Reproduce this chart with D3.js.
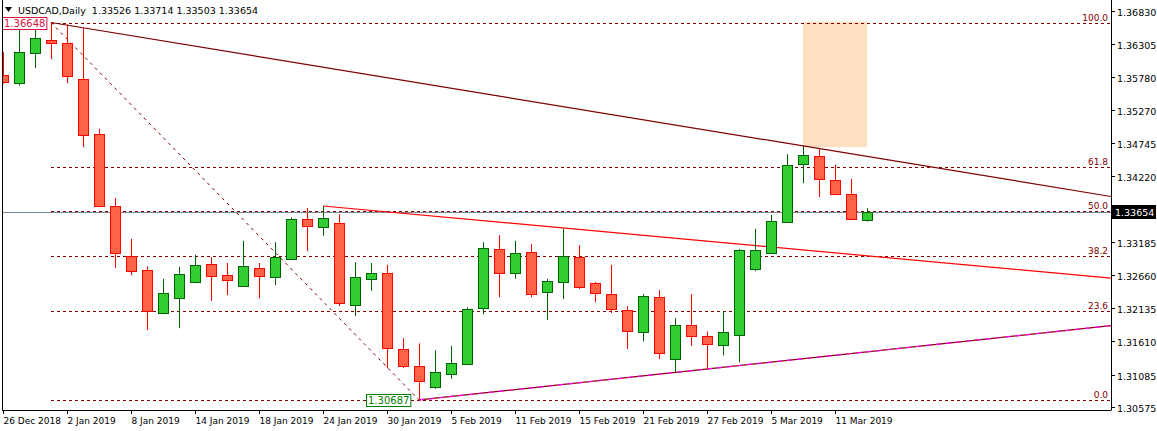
<!DOCTYPE html>
<html><head><meta charset="utf-8">
<script src="https://cdn.jsdelivr.net/npm/d3@7"></script>
<style>body{margin:0;background:#fff}svg{display:block}text{font-family:"DejaVu Sans",sans-serif}</style>
</head><body><svg id="c" width="1157" height="431"></svg>
<script>
const dates=["26 Dec 2018","27 Dec","28 Dec","31 Dec","2 Jan 2019","3 Jan","4 Jan","7 Jan","8 Jan 2019","9 Jan","10 Jan","11 Jan","14 Jan 2019","15 Jan","16 Jan","17 Jan","18 Jan 2019","21 Jan","22 Jan","23 Jan","24 Jan 2019","25 Jan","28 Jan","29 Jan","30 Jan 2019","31 Jan","1 Feb","4 Feb","5 Feb 2019","6 Feb","7 Feb","8 Feb","11 Feb 2019","12 Feb","13 Feb","14 Feb","15 Feb 2019","18 Feb","19 Feb","20 Feb","21 Feb 2019","22 Feb","25 Feb","26 Feb","27 Feb 2019","28 Feb","1 Mar","4 Mar","5 Mar 2019","6 Mar","7 Mar","8 Mar","11 Mar 2019","12 Mar","13 Mar"];
const open=[1.3582,1.3569,1.3617,1.3637,1.3632,1.3576,1.3489,1.3375,1.3296,1.3274,1.3206,1.3229,1.3255,1.3283,1.3266,1.3248,1.3277,1.3263,1.3291,1.3354,1.3342,1.3348,1.3218,1.3260,1.3269,1.3149,1.3122,1.3089,1.3109,1.3125,1.3214,1.3307,1.3269,1.3302,1.3239,1.3255,1.3294,1.3253,1.3236,1.3211,1.3176,1.3231,1.3133,1.3187,1.3169,1.3155,1.3171,1.3275,1.3301,1.3350,1.3441,1.3454,1.3416,1.3394,1.33526];
const high=[1.3618,1.3661,1.3661,1.36648,1.3662,1.3656,1.3497,1.3388,1.3323,1.3279,1.3260,1.3279,1.3298,1.3294,1.3285,1.3320,1.3285,1.3318,1.3357,1.3372,1.3375,1.3362,1.3286,1.3285,1.3282,1.3166,1.3158,1.3147,1.3154,1.3215,1.3318,1.3329,1.3320,1.3315,1.3260,1.3339,1.3313,1.3255,1.3282,1.3217,1.3236,1.3242,1.3198,1.3236,1.3177,1.3209,1.3307,1.3339,1.3361,1.3457,1.3470,1.3467,1.3440,1.3418,1.33714];
const low=[1.3568,1.3565,1.3593,1.3607,1.3569,1.3468,1.3373,1.3277,1.3266,1.3179,1.3204,1.3182,1.3253,1.3225,1.3234,1.3247,1.3229,1.3250,1.3290,1.3304,1.3328,1.3217,1.3201,1.3241,1.3119,1.3119,1.30687,1.3086,1.3102,1.3125,1.3204,1.3231,1.3260,1.3231,1.3195,1.3228,1.3244,1.3223,1.3206,1.3149,1.3161,1.3133,1.3113,1.3154,1.3117,1.3139,1.3128,1.3272,1.3301,1.3350,1.3411,1.3389,1.3392,1.3353,1.33503];
const close=[1.3571,1.3618,1.3640,1.3632,1.3580,1.3487,1.3375,1.3301,1.3272,1.3209,1.3237,1.3267,1.3282,1.3264,1.3258,1.3280,1.3264,1.3294,1.3354,1.3343,1.3356,1.3222,1.3263,1.3269,1.3151,1.3122,1.3098,1.3113,1.3127,1.3212,1.3309,1.3269,1.3301,1.3236,1.3256,1.3296,1.3247,1.3237,1.3212,1.3177,1.3233,1.3143,1.3187,1.3169,1.3157,1.3176,1.3305,1.3305,1.3351,1.3440,1.3455,1.3418,1.3394,1.3354,1.33654];
const priceTicks=[1.36830,1.36305,1.35780,1.35270,1.34745,1.34220,1.33695,1.33185,1.32660,1.32135,1.31610,1.31085,1.30575];
const dateTickIdx=[0,4,8,12,16,20,24,28,32,36,40,44,48,52];
const fibLevels=[0,23.6,38.2,50,61.8,100];
const fibLow=1.30687, fibHigh=1.36648;
// trend lines: start bar, start price, price at right edge
const trendLines=[[3,1.36648,1.3390,"#800000"],[20,1.3375,1.3261,"#ff0000"],[26,1.30687,1.3186,"#800000"]];
const title="USDCAD,Daily  1.33526 1.33714 1.33503 1.33654";
const lastPrice=1.33654;

const svg=d3.select("#c");
const L=2,R=1111,B=410;
const x=d3.scaleLinear().domain([0,54]).range([3,867]);
const y=d3.scaleLinear().domain([1.30575,1.36830]).range([407,11]);
svg.append("defs").append("clipPath").attr("id","pc").append("rect").attr("x",L).attr("y",0).attr("width",R-L).attr("height",B);
const g=svg.append("g").attr("clip-path","url(#pc)");

g.append("rect").attr("x",x(50)).attr("width",x(54)-x(50)).attr("y",y(1.3666)).attr("height",y(1.3468)-y(1.3666)).attr("fill","#ffdfbf");

fibLevels.forEach(l=>{const p=fibLow+(fibHigh-fibLow)*l/100;const yy=Math.round(y(p))+.5;
 g.append("line").attr("x1",x(3)).attr("x2",R).attr("y1",yy).attr("y2",yy).attr("stroke","#800000").attr("stroke-dasharray","3,3");
 svg.append("text").attr("x",1108).attr("y",yy-3).attr("text-anchor","end").attr("font-size",9).attr("fill","#800000").text(l.toFixed(1));
});
g.append("line").attr("x1",L).attr("x2",R).attr("y1",Math.round(y(lastPrice))+.5).attr("y2",Math.round(y(lastPrice))+.5).attr("stroke","#778899");
g.append("line").attr("x1",x(3)).attr("y1",y(fibHigh)).attr("x2",x(26)).attr("y2",y(fibLow)).attr("stroke","#800000").attr("stroke-dasharray","3,4");
trendLines.forEach(([i1,p1,p2,col])=>{
 g.append("line").attr("x1",x(i1)).attr("y1",y(p1)).attr("x2",R).attr("y2",y(p2)).attr("stroke",col).attr("stroke-width",1.2);});
const m=trendLines[2];
g.append("line").attr("x1",x(m[0])).attr("y1",y(m[1])).attr("x2",R).attr("y2",y(m[2])).attr("stroke","#ff00ff").attr("stroke-width",1.2).attr("stroke-dasharray","5,5");

const idx=d3.range(open.length);
g.selectAll("g.c").data(idx).join("g").each(function(i){const up=close[i]>=open[i];const s=d3.select(this);const cx=Math.round(x(i))+.5;
 const stroke=up?"#006400":"#ff0000", fill=up?"#32cd32":"#ff6347";
 s.append("line").attr("x1",cx).attr("x2",cx).attr("y1",y(high[i])).attr("y2",y(low[i])).attr("stroke",stroke);
 const t=Math.round(y(Math.max(open[i],close[i]))), b=Math.round(y(Math.min(open[i],close[i])));
 s.append("rect").attr("x",cx-5).attr("width",10).attr("y",t+.5).attr("height",Math.max(1,b-t)).attr("fill",fill).attr("stroke",stroke);
});

function box(txt,xx,yy,col){const t=svg.append("text").attr("x",xx+2).attr("y",yy+10).attr("font-size",10).attr("fill",col).text(txt);
 const bb=t.node().getBBox();svg.insert("rect","text").attr("x",xx+.5).attr("y",yy+.5).attr("width",bb.width+3).attr("height",12).attr("fill","#fff").attr("stroke",col);}
box("1.36648",2,17,"#dc143c");
box("1.30687",366,394,"#008000");

svg.append("line").attr("x1",L+.5).attr("x2",L+.5).attr("y1",0).attr("y2",B).attr("stroke","#000");
svg.append("line").attr("x1",L).attr("x2",R+.5).attr("y1",B+.5).attr("y2",B+.5).attr("stroke","#000");
svg.append("line").attr("x1",R+.5).attr("x2",R+.5).attr("y1",0).attr("y2",B).attr("stroke","#000");

const lp=lastPrice.toFixed(5);
priceTicks.forEach(p=>{const yy=Math.round(y(p))+.5;
 svg.append("line").attr("x1",R).attr("x2",R+4).attr("y1",yy).attr("y2",yy).attr("stroke","#000");
 if(Math.abs(y(p)-y(lastPrice))>8) svg.append("text").attr("x",1117).attr("y",yy+4).attr("font-size",9.5).attr("fill","#000").text(p.toFixed(5));});
const ly=Math.round(y(lastPrice));
svg.append("rect").attr("x",R+1).attr("y",ly-7).attr("width",44).attr("height",14).attr("fill","#000");
svg.append("text").attr("x",1115).attr("y",ly+4).attr("font-size",9.5).attr("fill","#fff").text(lp);

dateTickIdx.forEach(i=>{const xx=Math.round(x(i))+.5;
 svg.append("line").attr("x1",xx).attr("x2",xx).attr("y1",B).attr("y2",B+4).attr("stroke","#000");
 svg.append("text").attr("x",xx).attr("y",424).attr("font-size",9).attr("fill","#000").text(dates[i]);});

svg.append("path").attr("d","M5,7 L12,7 L8.5,12 Z").attr("fill","#000");
svg.append("text").attr("x",18).attr("y",14).attr("font-size",9.5).attr("fill","#000").style("white-space","pre").text(title);
</script></body></html>
